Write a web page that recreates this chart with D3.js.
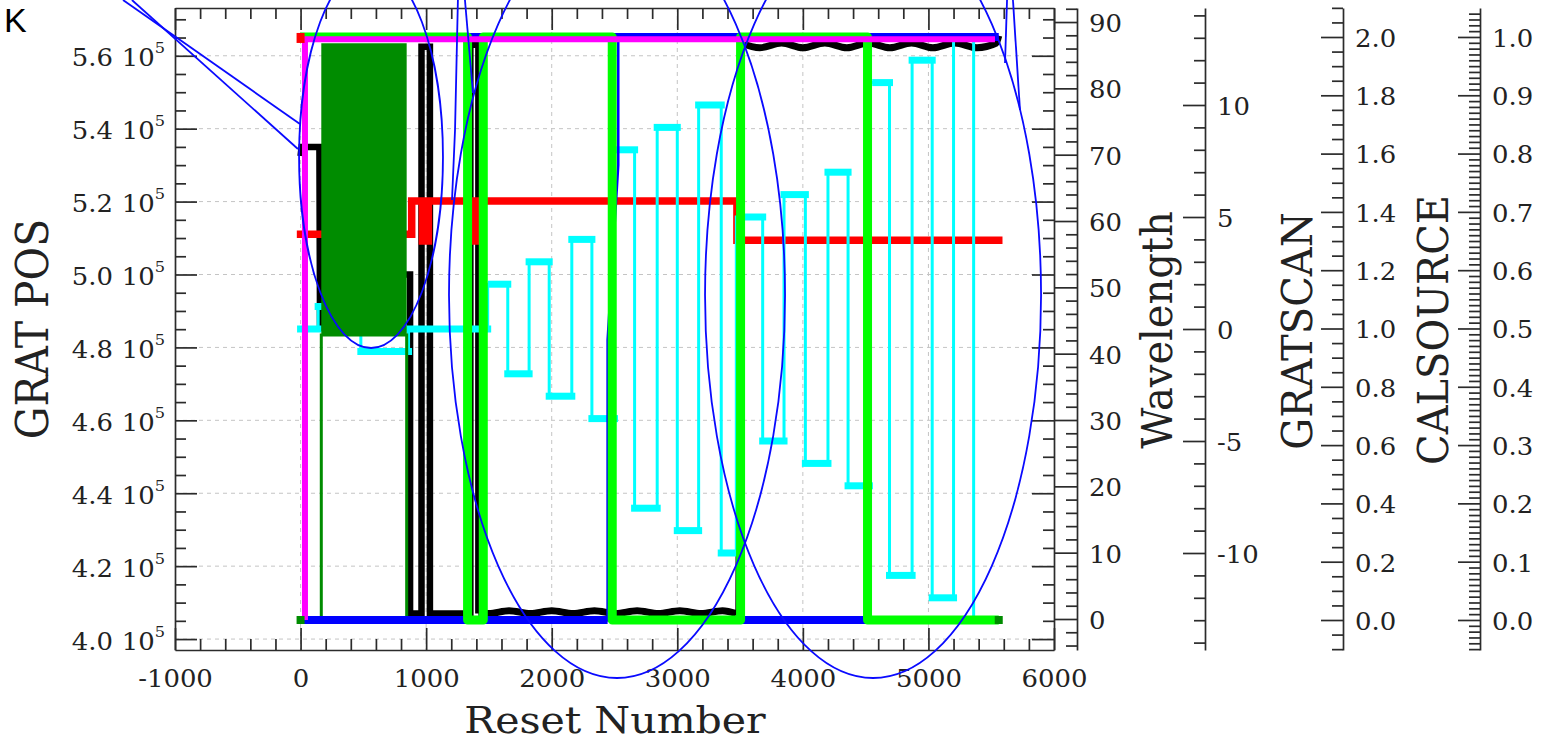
<!DOCTYPE html>
<html>
<head>
<meta charset="utf-8">
<script src="https://cdn.jsdelivr.net/npm/d3@7"></script>
<style>
  body { margin: 0; background: #fff; }
  svg { display: block; }
  text { font-family: "DejaVu Serif", serif; fill: #222; }
</style>
</head>
<body>
<svg width="1544" height="741"></svg>
<script>
// ---- tick values ----
var xMajor = [-1000, 0, 1000, 2000, 3000, 4000, 5000, 6000];
var posMajor = [400000, 420000, 440000, 460000, 480000, 500000, 520000, 540000, 560000];
var auxMajor = [0, 10, 20, 30, 40, 50, 60, 70, 80, 90];
var waveMajor = [-10, -5, 0, 5, 10];
var scanMajor = [0, 0.2, 0.4, 0.6, 0.8, 1.0, 1.2, 1.4, 1.6, 1.8, 2.0];
var calMajor = [0, 0.1, 0.2, 0.3, 0.4, 0.5, 0.6, 0.7, 0.8, 0.9, 1.0];

// ---- GRAT POS (black) ----
var blackSweep = [[0, 532500], [8, 535000], [150, 535000], [155, 484500], [200, 500000], [872, 500000],
  [872, 407000], [963, 407000], [963, 562500], [1030, 562500], [1030, 407000], [1352, 407000],
  [1352, 563000], [1416, 563000], [1416, 407000]];
var blackLow = [[1416, 407000], [1500, 407000], [1660, 407800], [1830, 407000], [2000, 407800], [2170, 407000],
  [2340, 407800], [2510, 407000], [2680, 407800], [2850, 407000], [3020, 407800], [3190, 407000],
  [3360, 407800], [3470, 407000]];
var blackJump = [[3470, 407000], [3490, 407000], [3505, 563500]];
var blackHigh = [[3505, 563500], [3658, 562200], [3830, 563500], [4000, 562200], [4175, 563500], [4350, 562200],
  [4520, 563500], [4693, 562200], [4865, 563500], [5035, 562200], [5210, 563500], [5386, 562200],
  [5540, 563500], [5560, 565500]];

// ---- red (0-90 axis) ----
var redFirst = [0, 87.6];
var redLine = [[0, 58.0], [885, 58.0], [885, 63.0], [970, 63.0], [970, 57.0], [1018, 57.0], [1018, 63.0],
  [1385, 63.0], [1385, 57.0], [1400, 57.0], [1400, 63.0], [3475, 63.0], [3475, 57.1], [5560, 57.1]];

// ---- Wavelength (cyan): [start, end, value] ----
var cyanSegs = [
  [0, 140, 0], [140, 480, 1], [480, 860, -1], [860, 1490, 0],
  [1520, 1650, 2], [1650, 1820, -2], [1820, 1980, 3], [1980, 2160, -3], [2160, 2320, 4], [2320, 2500, -4],
  [2540, 2660, 8], [2660, 2840, -8], [2840, 3000, 9], [3000, 3170, -9], [3170, 3350, 10], [3350, 3470, -10],
  [3560, 3680, 5], [3680, 3850, -5], [3850, 4020, 6], [4020, 4200, -6], [4200, 4360, 7], [4360, 4530, -7],
  [4580, 4690, 11], [4690, 4870, -11], [4870, 5030, 12], [5030, 5200, -12], [5200, 5360, 13], [5360, 5370, -13]
];

// ---- GRATSCAN (dark green) ----
var scanLine = [[0, 0], [165, 0], [165, 0.978], [845, 0.978], [845, 0], [5560, 0]];
var scanBand = [[165, 0.978, 1.979], [845, 0.978, 1.979]];

// ---- CALSOURCE-type steps ----
var limeLine = [[0, 1], [1330, 1], [1330, 0], [1455, 0], [1455, 1], [2482, 1], [2482, 0], [3504, 0],
  [3504, 1], [4515, 1], [4515, 0], [5560, 0]];
var blueLine = [[0, 0], [1330, 0], [1330, 1], [1455, 1], [1455, 0], [2445, 0], [2445, 0.48], [2530, 0.78],
  [2530, 1], [3505, 1], [3505, 0], [4515, 0], [4515, 1], [5560, 1]];
var blueSegs = [[0, 1330, 0], [1330, 1455, 1], [1455, 2445, 0], [2490, 3505, 1], [3505, 4515, 0], [4515, 5560, 1]];
var magentaLine = [[35, 0], [35, 0.996], [5530, 0.996]];

// ---- hand-drawn marks (reset, GRAT POS units) ----
var annotEllipses = [[561, 532230, 573, 52390], [2520, 494380, 1338, 105060], [4559, 494380, 1338, 105060]];
var annotStrokes = [
  [[-1414, 575300], [-5, 541280]],
  [[-1343, 575300], [-21, 534420]],
  [[1309, 575300], [1373, 549790]],
  [[1253, 575300], [1230, 539640], [1206, 520440]],
  [[5626, 575300], [5610, 558010]],
  [[5673, 575300], [5729, 545120]]
];

var SX = 1.08, FONT = "DejaVu Serif";
var L = 175, R = 1054, T = 8, B = 650;
var svg = d3.select("svg");
svg.append("rect").attr("width", 1544).attr("height", 741).attr("fill", "#fff");

var x = d3.scaleLinear().domain([-1000, 6000]).range([L, R]);
var yPos = d3.scaleLinear().domain([397000, 573100]).range([B, T]);
var yAux = d3.scaleLinear().domain([-4.674, 92.115]).range([B, T]);
var yWave = d3.scaleLinear().domain([-14.33, 14.33]).range([B, T]);
var yScan = d3.scaleLinear().domain([-0.1029, 2.0995]).range([B, T]);
var yCal = d3.scaleLinear().domain([-0.0515, 1.0497]).range([B, T]);

// grid
var grid = svg.append("g").attr("stroke", "#c4c4c4").attr("stroke-width", 1).attr("stroke-dasharray", "4,4");
grid.selectAll(".gx").data(xMajor.filter(function (d) { return d > -1000 && d < 6000; })).enter().append("line")
  .attr("x1", function (d) { return x(d); }).attr("x2", function (d) { return x(d); })
  .attr("y1", T).attr("y2", B);
grid.selectAll(".gy").data(posMajor).enter().append("line")
  .attr("x1", L).attr("x2", R)
  .attr("y1", function (d) { return yPos(d); }).attr("y2", function (d) { return yPos(d); });

function pathOf(yS, curve) {
  return d3.line().x(function (d) { return x(d[0]); }).y(function (d) { return yS(d[1]); }).curve(curve || d3.curveLinear);
}
function stroke(data, gen, color, w, extra) {
  var p = svg.append("path").attr("d", gen(data)).attr("fill", "none")
    .attr("stroke", color).attr("stroke-width", w);
  if (extra) extra(p);
  return p;
}

// black
var BLK = "#000";
stroke(blackSweep, pathOf(yPos), BLK, 6.5);
stroke(blackLow, pathOf(yPos, d3.curveMonotoneX), BLK, 7);
stroke(blackJump, pathOf(yPos), BLK, 7);
stroke(blackHigh, pathOf(yPos, d3.curveMonotoneX), BLK, 7);

// red
stroke(redLine, pathOf(yAux), "#ff0000", 7.5, function (p) { p.attr("stroke-linecap", "square"); });

// cyan
var cyanPts = [];
cyanSegs.forEach(function (s) { cyanPts.push([s[0], s[2]]); cyanPts.push([s[1], s[2]]); });
stroke(cyanPts, pathOf(yWave, d3.curveStepBefore), "#00ffff", 3);
svg.append("g").selectAll("line").data(cyanSegs).enter().append("line")
  .attr("x1", function (d) { return x(d[0]); }).attr("x2", function (d) { return x(d[1]); })
  .attr("y1", function (d) { return yWave(d[2]); }).attr("y2", function (d) { return yWave(d[2]); })
  .attr("stroke", "#00ffff").attr("stroke-width", 7).attr("stroke-linecap", "square");

// dark green
var DG = "#008c00";
svg.append("path").datum(scanBand)
  .attr("d", d3.area().x(function (d) { return x(d[0]); }).y0(function (d) { return yScan(d[1]); }).y1(function (d) { return yScan(d[2]); }))
  .attr("fill", DG);
stroke(scanLine, pathOf(yScan), DG, 3);

// blue
stroke(blueLine, pathOf(yCal), "#0000ff", 2.5);
svg.append("g").selectAll("line").data(blueSegs).enter().append("line")
  .attr("x1", function (d) { return x(d[0]); }).attr("x2", function (d) { return x(d[1]); })
  .attr("y1", function (d) { return yCal(d[2]); }).attr("y2", function (d) { return yCal(d[2]); })
  .attr("stroke", "#0000ff").attr("stroke-width", 8);

// lime
stroke(limeLine, pathOf(yCal), "#00ff00", 9, function (p) { p.attr("stroke-linejoin", "round"); });
// magenta
stroke(magentaLine, pathOf(yCal), "#ff00ff", 6);

// end markers
svg.append("g").selectAll("rect").data([scanLine[0], scanLine[scanLine.length - 1]]).enter().append("rect")
  .attr("x", function (d) { return x(d[0]) - 4; }).attr("y", function (d) { return yScan(d[1]) - 4; })
  .attr("width", 8).attr("height", 8).attr("fill", DG);
svg.append("rect").attr("x", x(redFirst[0]) - 4).attr("y", yAux(redFirst[1]) - 5)
  .attr("width", 8).attr("height", 10).attr("fill", "#ff0000");

// ---- axes ----
function stretch(sel) {
  sel.each(function () {
    var t = d3.select(this), xx = +t.attr("x") || 0;
    t.attr("transform", "translate(" + xx + ",0) scale(" + SX + ",1) translate(" + (-xx) + ",0)");
  });
}
function addAxis(gen, scale, tr, majors, minors, fmt, pad) {
  var gMin = svg.append("g").attr("transform", tr)
    .call(gen(scale).tickValues(minors).tickSize(-11).tickSizeOuter(0).tickFormat(""));
  gMin.select(".domain").remove();
  var gMaj = svg.append("g").attr("transform", tr)
    .call(gen(scale).tickValues(majors).tickSize(-22).tickSizeOuter(0).tickPadding(pad || 13).tickFormat(fmt || ""));
  [gMin, gMaj].forEach(function (g) {
    g.attr("color", "#2b2b2b").attr("font-family", FONT).attr("font-size", 24);
    g.selectAll("line, path").attr("stroke-width", 1.7);
  });
  return gMaj;
}
var xMinor = d3.range(-1000, 6001, 200).filter(function (v) { return v % 1000 !== 0; });
var posMinor = d3.range(400000, 573001, 5000).filter(function (v) { return v % 20000 !== 0; });
var auxMinor = d3.range(-4, 93, 2).filter(function (v) { return v % 10 !== 0; });
var waveMinor = d3.range(-14, 15).filter(function (v) { return v % 5 !== 0; });
var scanMinor = d3.range(-2, 43).filter(function (i) { return i % 4 !== 0; }).map(function (i) { return i * 0.05; });
var calMinor = d3.range(-5, 105).filter(function (i) { return i % 10 !== 0; }).map(function (i) { return i * 0.01; });
var str = function (d) { return String(d); };
var f1 = function (d) { return d.toFixed(1); };

var gB = addAxis(d3.axisBottom, x, "translate(0," + B + ")", xMajor, xMinor, str);
gB.selectAll(".tick text").attr("y", 37).attr("dy", null).call(stretch);
addAxis(d3.axisTop, x, "translate(0," + T + ")", xMajor, xMinor, null);
var gL = addAxis(d3.axisLeft, yPos, "translate(" + L + ",0)", posMajor, posMinor, str, 10);
gL.selectAll(".tick text").each(function (d) {
  var t = d3.select(this).text(null).attr("x", -10).attr("dy", null).attr("y", 10);
  t.append("tspan").text((d / 1e5).toFixed(1));
  t.append("tspan").attr("dx", 8).text("10");
  t.append("tspan").attr("dy", -13).attr("font-size", 15).text("5");
}).call(stretch);
addAxis(d3.axisRight, yPos, "translate(" + R + ",0)", posMajor, posMinor, null);

[[yAux, 1077, auxMajor, auxMinor, str], [yWave, 1205, waveMajor, waveMinor, str],
 [yScan, 1343, scanMajor, scanMinor, f1], [yCal, 1480, calMajor, calMinor, f1]].forEach(function (a) {
  var g = addAxis(d3.axisRight, a[0], "translate(" + a[1] + ",0)", a[2], a[3], a[4], 12);
  g.selectAll(".tick text").attr("dy", "0.39em").call(stretch);
});

// titles
function title(txt, x0, y0, rot, size) {
  svg.append("text")
    .attr("transform", "translate(" + x0 + "," + y0 + ") scale(" + SX + ",1)" + (rot ? " rotate(-90)" : ""))
    .attr("text-anchor", "middle").attr("font-size", size).text(txt);
}
title("Reset Number", 615, 733, false, 38);
title("GRAT POS", 48, 329, true, 41);
title("Wavelength", 1172, 330, true, 40);
title("GRATSCAN", 1312, 331, true, 40);
title("CALSOURCE", 1448, 330, true, 40);

// ---- hand-drawn overlay ----
var ann = svg.append("g").attr("fill", "none").attr("stroke", "#0a0aff").attr("stroke-width", 1.8);
ann.selectAll("ellipse").data(annotEllipses).enter().append("ellipse")
  .attr("cx", function (d) { return x(d[0]); }).attr("cy", function (d) { return yPos(d[1]); })
  .attr("rx", function (d) { return x(d[0] + d[2]) - x(d[0]); })
  .attr("ry", function (d) { return yPos(d[1] - d[3]) - yPos(d[1]); });
ann.selectAll("path").data(annotStrokes).enter().append("path").attr("d", pathOf(yPos));

svg.append("text").attr("x", 4).attr("y", 32).attr("font-size", 34)
  .style("font-family", "'Liberation Sans', Arial, sans-serif").style("fill", "#000").text("K");
</script>
</body>
</html>
